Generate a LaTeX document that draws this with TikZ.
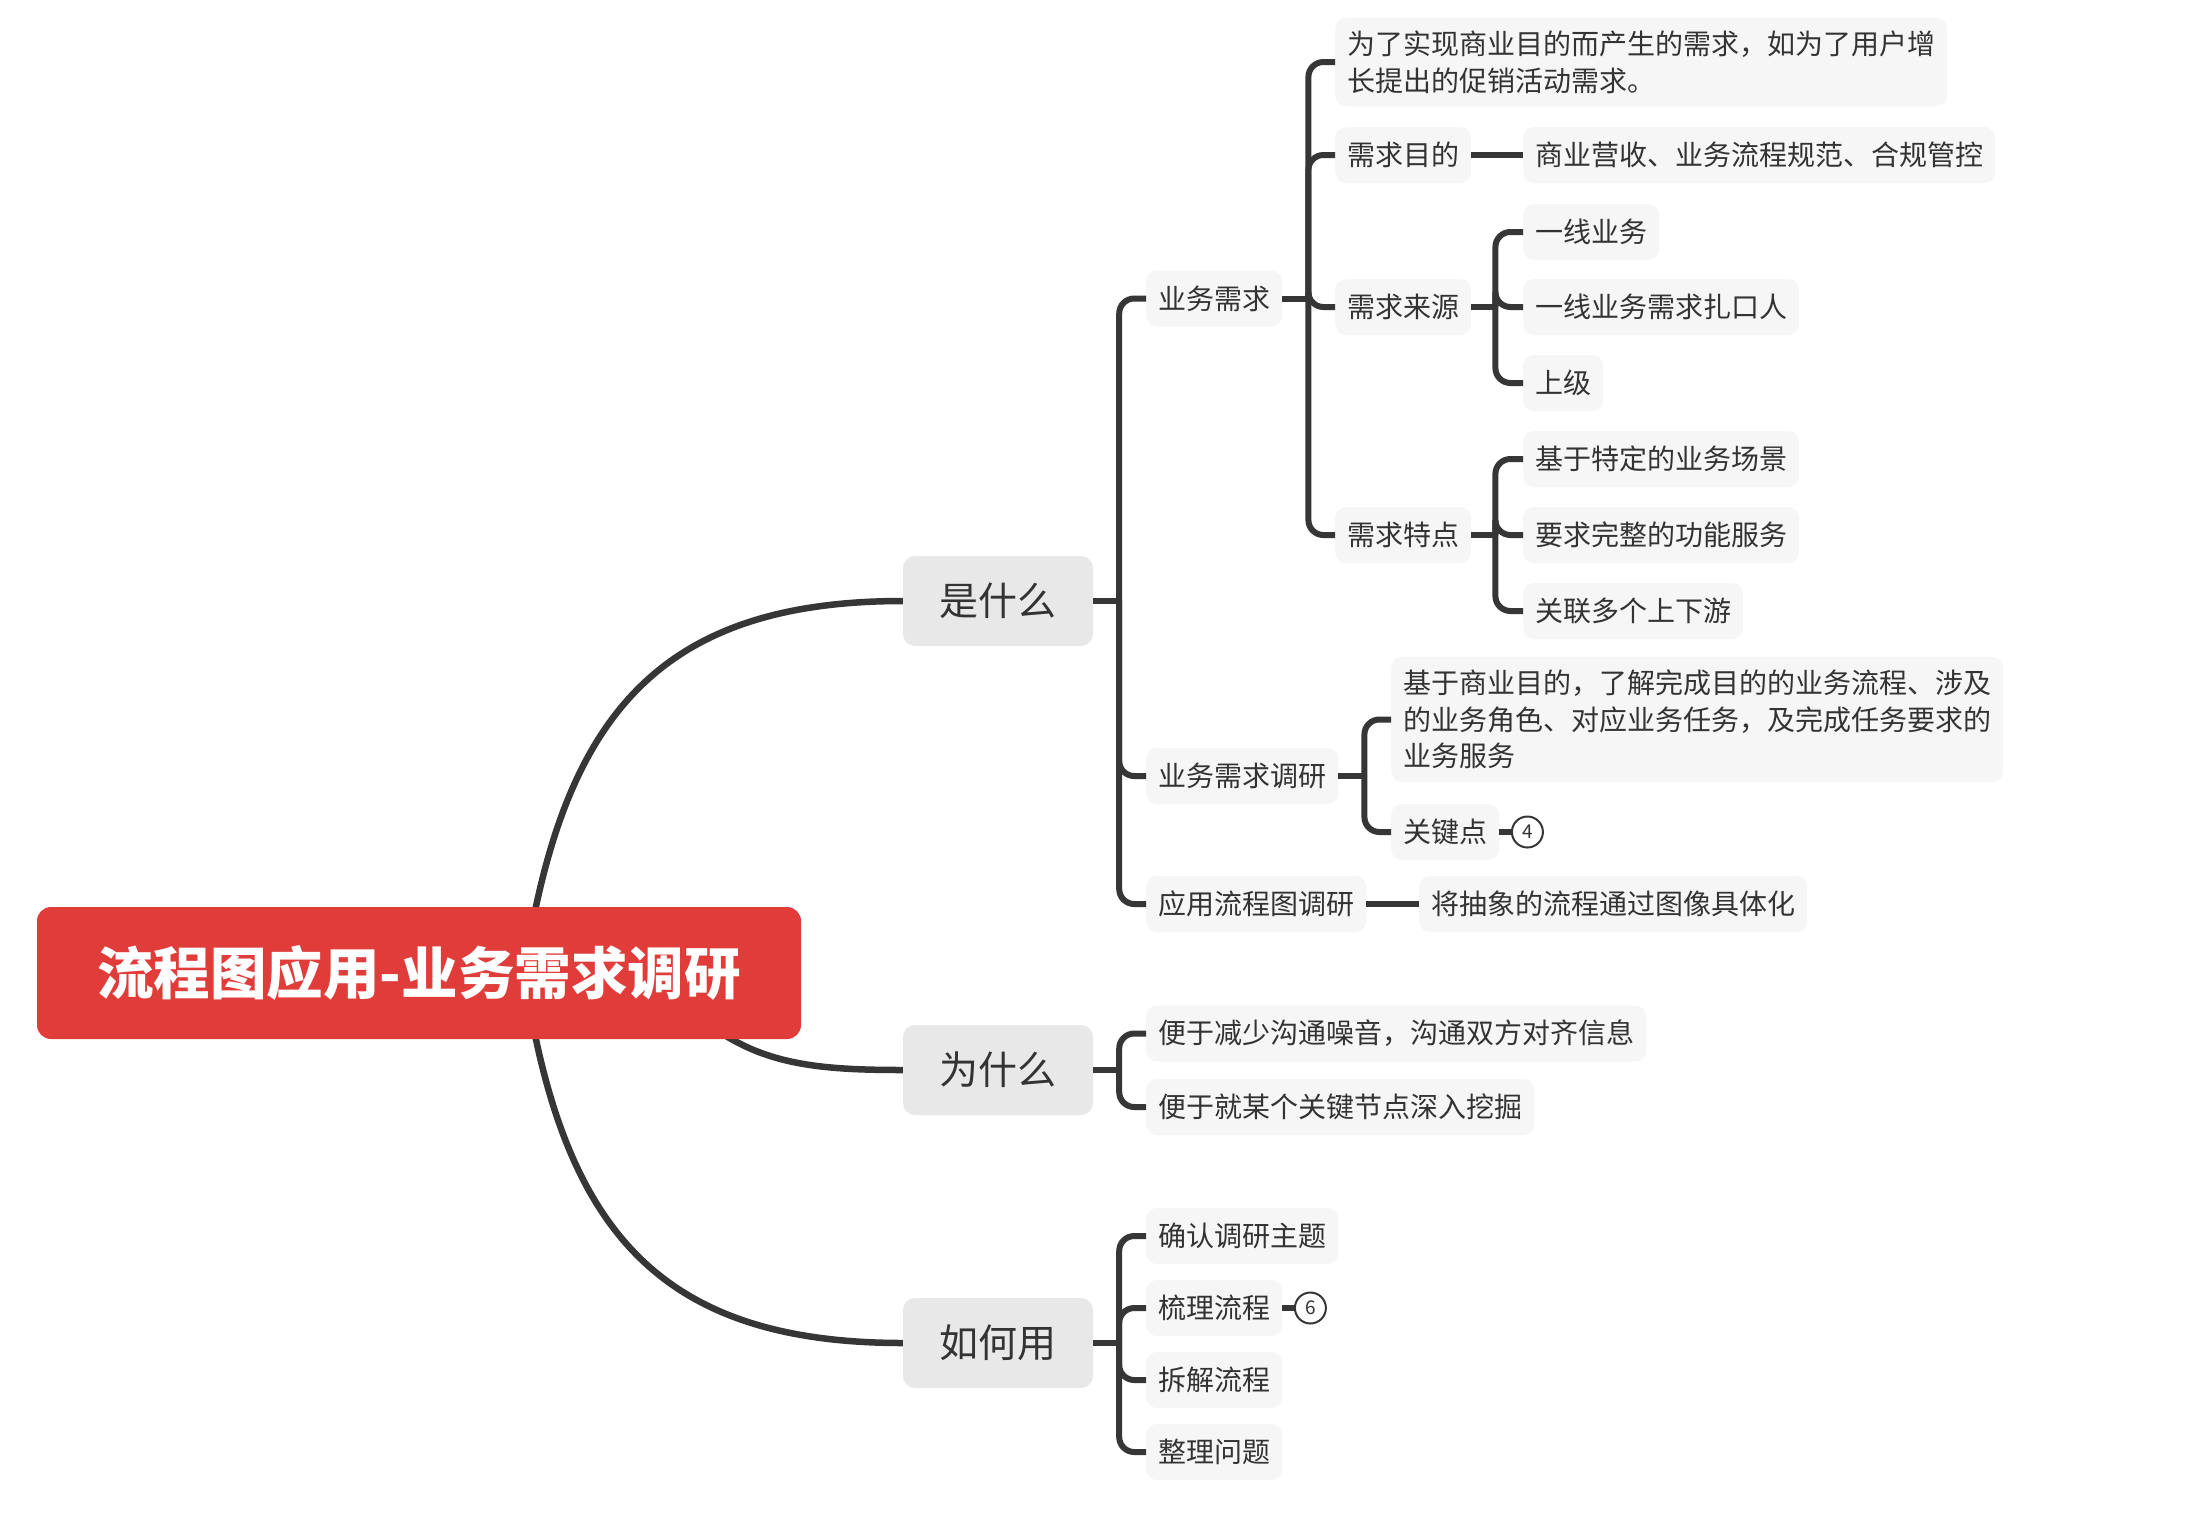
\documentclass[tikz,border=0pt]{standalone}
\usepackage{fontspec}
\setmainfont{Noto Sans CJK SC}
\usetikzlibrary{backgrounds}
\definecolor{rootred}{HTML}{E03D3A}
\definecolor{lonegray}{HTML}{E8E8E8}
\definecolor{leafgray}{HTML}{F6F6F6}
\definecolor{txt}{HTML}{333333}
\definecolor{linec}{HTML}{363636}
\begin{document}
\begin{tikzpicture}[x=1pt,y=-1pt,
  rootbox/.style={fill=rootred, rounded corners=14pt, minimum width=764pt, minimum height=132pt, text=white, font=\fontsize{56.5}{60}\selectfont\bfseries, inner sep=0pt},
  lone/.style={fill=lonegray, rounded corners=12pt, minimum width=190pt, minimum height=90pt, text=txt, font=\fontsize{39}{46}\selectfont, inner sep=0pt},
  leaf/.style={fill=leafgray, rounded corners=11pt, minimum height=56pt, inner xsep=12pt, inner ysep=13pt, text=txt, font=\fontsize{28}{36.6}\selectfont, anchor=west, align=left},
  conn/.style={draw=linec, line width=6pt, rounded corners=15pt},
  curv/.style={draw=linec, line width=6.5pt},
  badge/.style={circle, draw=linec, line width=2pt, fill=white, minimum size=31pt, inner sep=0pt, text=txt, font=\fontsize{19}{20}\selectfont},
]
\useasboundingbox (0,0) rectangle (2208,1526);

% nodes
\node[rootbox] (root) at (419,973) {流程图应用-业务需求调研};
\node[lone] (sm) at (998,601) {是什么};
\node[lone] (wsm) at (998,1070) {为什么};
\node[lone] (rhy) at (998,1343) {如何用};

\node[leaf] (ywxq) at (1146,298.5) {业务需求};
\node[leaf] (xqdy) at (1146,776) {业务需求调研};
\node[leaf] (yylc) at (1146,904) {应用流程图调研};
\node[leaf] (w1) at (1146,1033.5) {便于减少沟通噪音，沟通双方对齐信息};
\node[leaf] (w2) at (1146,1107) {便于就某个关键节点深入挖掘};
\node[leaf] (h1) at (1146,1236) {确认调研主题};
\node[leaf] (h2) at (1146,1308) {梳理流程};
\node[leaf] (h3) at (1146,1380) {拆解流程};
\node[leaf] (h4) at (1146,1452) {整理问题};

\node[leaf] (a1) at (1335,62) {为了实现商业目的而产生的需求，如为了用户增\\长提出的促销活动需求。};
\node[leaf] (a2) at (1335,155) {需求目的};
\node[leaf] (a3) at (1335,307) {需求来源};
\node[leaf] (a4) at (1335,535) {需求特点};

\node[leaf] (b1) at (1523,155) {商业营收、业务流程规范、合规管控};
\node[leaf] (c1) at (1523,232) {一线业务};
\node[leaf] (c2) at (1523,307) {一线业务需求扎口人};
\node[leaf] (c3) at (1523,383) {上级};
\node[leaf] (d1) at (1523,459) {基于特定的业务场景};
\node[leaf] (d2) at (1523,535) {要求完整的功能服务};
\node[leaf] (d3) at (1523,611) {关联多个上下游};

\node[leaf] (e1) at (1391,719.5) {基于商业目的，了解完成目的的业务流程、涉及\\的业务角色、对应业务任务，及完成任务要求的\\业务服务};
\node[leaf] (e2) at (1391,832) {关键点};
\node[leaf] (f1) at (1419,904) {将抽象的流程通过图像具体化};

% tree connectors
\draw[conn] (sm.east) -- ++(26,0) coordinate (t1);
\foreach \c in {ywxq,xqdy,yylc} \draw[conn] (t1) |- (\c.west);
\draw[conn] (wsm.east) -- ++(26,0) coordinate (t2);
\foreach \c in {w1,w2} \draw[conn] (t2) |- (\c.west);
\draw[conn] (rhy.east) -- ++(26,0) coordinate (t3);
\foreach \c in {h1,h2,h3,h4} \draw[conn] (t3) |- (\c.west);
\draw[conn] (ywxq.east) -- ++(26,0) coordinate (t4);
\foreach \c in {a1,a2,a3,a4} \draw[conn] (t4) |- (\c.west);
\draw[conn] (a3.east) -- ++(24,0) coordinate (t5);
\foreach \c in {c1,c2,c3} \draw[conn] (t5) |- (\c.west);
\draw[conn] (a4.east) -- ++(24,0) coordinate (t6);
\foreach \c in {d1,d2,d3} \draw[conn] (t6) |- (\c.west);
\draw[conn] (xqdy.east) -- ++(26,0) coordinate (t7);
\foreach \c in {e1,e2} \draw[conn] (t7) |- (\c.west);
\draw[conn] (a2.east) -- (b1.west);
\draw[conn] (yylc.east) -- (f1.west);

\node[badge] (k4) at ([xshift=28pt]e2.east) {4};
\node[badge] (k6) at ([xshift=28pt]h2.east) {6};
\draw[conn] (e2.east) -- (k4.west);
\draw[conn] (h2.east) -- (k6.west);

% main curves
\begin{scope}[on background layer]
\fill[white] (0,0) rectangle (2208,1526);
\draw[curv] (root.center) ++(105,0) .. controls (562,720) and (655,601) .. (sm.west);
\draw[curv] (root.center) ++(255,20) .. controls (740,1062) and (800,1070) .. (wsm.west);
\draw[curv] (root.center) ++(105,0) .. controls (562,1226) and (655,1343) .. (rhy.west);
\end{scope}
\end{tikzpicture}
\end{document}
